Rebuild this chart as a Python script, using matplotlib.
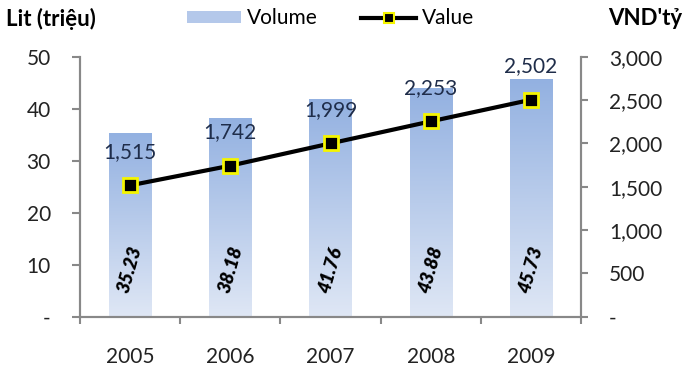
import numpy as np
import matplotlib.pyplot as plt
from matplotlib.colors import LinearSegmentedColormap
from matplotlib.lines import Line2D
from matplotlib.patches import Rectangle

plt.rcParams['font.family'] = ['Lato', 'DejaVu Sans']

years = ['2005', '2006', '2007', '2008', '2009']
volume = [35.23, 38.18, 41.76, 43.88, 45.73]   # Lit (triệu)
value = [1515, 1742, 1999, 2253, 2502]         # VND'tỷ

left_ticks = [0, 10, 20, 30, 40, 50]
right_ticks = [0, 500, 1000, 1500, 2000, 2500, 3000]

fig = plt.figure(figsize=(6.91, 3.70), dpi=100)
ax = fig.add_axes([0.1158, 0.144, 0.725, 0.703])
ax2 = ax.twinx()

x = np.arange(len(years))
bar_w = 0.42
grey = '#888888'

# bars with vertical gradient (dark at top, pale at bottom)
cmap = LinearSegmentedColormap.from_list('vol', ['#dfe7f5', '#93b1e1'])
grad = np.linspace(0, 1, 256).reshape(-1, 1)
bars = ax.bar(x, volume, width=bar_w, color='none', edgecolor='none', zorder=1)
for b in bars:
    x0, y0 = b.get_x(), b.get_y()
    w, h = b.get_width(), b.get_height()
    im = ax.imshow(grad, cmap=cmap, origin='lower', aspect='auto',
                   extent=[x0, x0 + w, y0, y0 + h], zorder=1)
    im.set_clip_path(b)

for xi, v in zip(x, volume):
    ax.text(xi, 9, f'{v:.2f}', rotation=74, ha='center', va='center',
            fontsize=13.5, fontweight='heavy', fontstyle='italic', color='black', zorder=3)

ax.set_xlim(-0.5, len(years) - 0.5)
ax.set_ylim(0, 50)
ax.set_yticks(left_ticks)
ax.set_yticklabels(['-'] + [str(t) for t in left_ticks[1:]])
ax.set_xticks(x)
ax.set_xticklabels(years)
ax.set_xticks(np.arange(-0.5, len(years)), minor=True)
ax.tick_params(axis='x', which='major', length=0, pad=22, labelsize=15, colors='#222222')
ax.tick_params(axis='x', which='minor', length=5, width=1.5, color=grey, direction='out')
ax.tick_params(axis='y', length=6, width=1.5, color=grey, pad=15, labelsize=15, labelcolor='#222222')

# value line on the secondary axis
ax2.plot(x, value, color='black', lw=3, marker='s', markersize=10,
         markerfacecolor='black', markeredgecolor='#f5f500', markeredgewidth=2, zorder=4)
for xi, v in zip(x, value):
    ax2.annotate(f'{v:,}', (xi, v), xytext=(0, 24), textcoords='offset points',
                 ha='center', va='center', fontsize=15, color='#1f2d4a')
ax2.set_ylim(0, 3000)
ax2.set_yticks(right_ticks)
ax2.set_yticklabels(['-'] + [f'{t:,}' for t in right_ticks[1:]])
ax2.tick_params(axis='y', length=5, width=1.5, color=grey, pad=15, labelsize=15, labelcolor='#222222')

for a in (ax, ax2):
    a.spines['top'].set_visible(False)
    for s in ('left', 'right', 'bottom'):
        a.spines[s].set_color(grey)
        a.spines[s].set_linewidth(1.5)

# axis titles and legend along the top
fig.text(0.009, 0.95, 'Lit (triệu)', fontsize=16, fontweight='bold', va='center', ha='left')
fig.text(0.988, 0.95, "VND'tỷ", fontsize=16, fontweight='bold', va='center', ha='right')
handles = [Rectangle((0, 0), 1, 1, facecolor='#b4c8ea', edgecolor='none'),
           Line2D([0], [0], color='black', lw=3, marker='s', markersize=7,
                  markerfacecolor='black', markeredgecolor='#f5f500', markeredgewidth=1.5)]
fig.legend(handles, ['Volume', 'Value'], loc='center', bbox_to_anchor=(0.478, 0.95),
           ncol=2, frameon=False, fontsize=15, handlelength=2.6, handleheight=0.5,
           columnspacing=2.1, handletextpad=0.3, borderpad=0, borderaxespad=0)

fig.savefig('out.png', dpi=100)
